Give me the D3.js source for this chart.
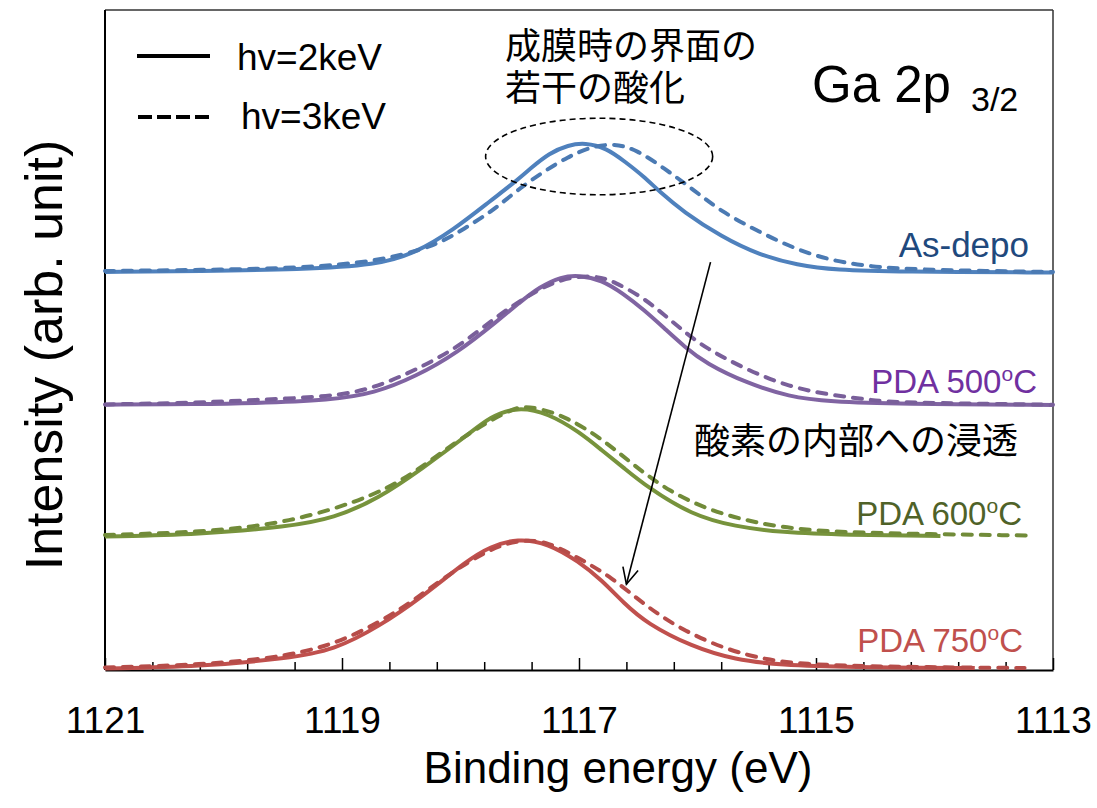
<!DOCTYPE html>
<html>
<head>
<meta charset="utf-8">
<script src="https://cdn.jsdelivr.net/npm/d3@7"></script>
<style>
  body { margin: 0; background: #fff; }
  text { font-family: "Liberation Sans", Arial, sans-serif; fill: #000; }
  .jp { font-family: "Noto Sans CJK JP", sans-serif; }
</style>
</head>
<body>
<div id="chart"></div>
<script>
// spectra: [binding energy (eV), normalized intensity]
const asDepo2keV = [[1121.00,0.015],[1120.20,0.023],[1119.35,0.034],[1118.70,0.068],[1118.38,0.159],[1118.06,0.333],
  [1117.74,0.56],[1117.55,0.69],[1117.41,0.80],[1117.25,0.917],[1117.09,0.977],[1116.95,0.995],[1116.77,0.955],
  [1116.61,0.85],[1116.45,0.737],[1116.32,0.623],[1116.12,0.472],[1115.80,0.283],[1115.48,0.144],[1115.16,0.068],
  [1114.83,0.03],[1114.32,0.017],[1113.00,0.011]];
const asDepo3keV = [[1121.00,0.023],[1120.20,0.03],[1119.35,0.045],[1118.71,0.093],[1118.22,0.207],[1117.96,0.348],
  [1117.74,0.472],[1117.55,0.614],[1117.32,0.765],[1117.09,0.889],[1116.90,0.964],[1116.70,0.99],[1116.51,0.94],
  [1116.28,0.80],[1116.03,0.636],[1115.80,0.472],[1115.48,0.32],[1115.16,0.182],[1114.83,0.093],[1114.51,0.055],
  [1114.32,0.043],[1113.87,0.027],[1113.00,0.015]];
const pda500_2keV = [[1121.00,0.01],[1120.20,0.015],[1119.78,0.02],[1119.08,0.045],[1118.73,0.096],[1118.38,0.222],
  [1118.03,0.40],[1117.68,0.65],[1117.51,0.778],[1117.33,0.904],[1117.15,0.98],[1117.00,0.992],[1116.81,0.955],
  [1116.63,0.854],[1116.45,0.727],[1116.28,0.589],[1116.11,0.449],[1115.93,0.323],[1115.58,0.172],[1115.23,0.07],
  [1114.88,0.033],[1114.32,0.015],[1113.00,0.008]];
const pda500_3keV = [[1121.00,0.012],[1120.20,0.025],[1119.78,0.045],[1119.08,0.07],[1118.73,0.134],[1118.38,0.273],
  [1118.03,0.437],[1117.68,0.689],[1117.40,0.854],[1117.15,0.967],[1116.87,0.992],[1116.70,0.942],[1116.45,0.816],
  [1116.28,0.689],[1116.11,0.563],[1115.93,0.437],[1115.58,0.273],[1115.23,0.146],[1114.88,0.083],[1114.53,0.045],
  [1114.32,0.025],[1113.00,0.01]];
const pda600_2keV = [[1121.00,0.011],[1120.20,0.028],[1119.45,0.086],[1119.07,0.149],[1118.69,0.30],[1118.32,0.528],
  [1117.94,0.78],[1117.75,0.919],[1117.52,0.995],[1117.26,0.945],[1117.00,0.805],[1116.81,0.667],[1116.62,0.53],
  [1116.43,0.39],[1116.05,0.174],[1115.68,0.086],[1115.30,0.043],[1114.74,0.023],[1113.95,0.015]];
const pda600_3keV = [[1121.00,0.023],[1120.20,0.043],[1119.45,0.111],[1118.69,0.326],[1118.32,0.54],[1117.94,0.793],
  [1117.56,0.983],[1117.46,0.995],[1117.34,0.983],[1117.11,0.919],[1116.81,0.755],[1116.54,0.553],[1116.24,0.351],
  [1115.87,0.199],[1115.49,0.111],[1115.11,0.06],[1114.54,0.035],[1113.21,0.019]];
const pda750_2keV = [[1121.00,0.011],[1120.20,0.025],[1119.45,0.089],[1119.07,0.15],[1118.69,0.328],[1118.32,0.555],
  [1117.94,0.833],[1117.75,0.934],[1117.52,0.998],[1117.26,0.96],[1117.00,0.82],[1116.81,0.682],[1116.62,0.505],
  [1116.43,0.354],[1116.05,0.177],[1115.68,0.076],[1115.30,0.038],[1114.74,0.02],[1113.66,0.015]];
const pda750_3keV = [[1121.00,0.019],[1120.20,0.038],[1119.45,0.10],[1118.96,0.227],[1118.50,0.455],[1118.13,0.707],
  [1117.75,0.922],[1117.49,0.99],[1117.26,0.972],[1117.00,0.846],[1116.73,0.707],[1116.43,0.48],[1116.13,0.303],
  [1115.75,0.152],[1115.41,0.076],[1115.11,0.045],[1114.54,0.025],[1113.24,0.015]];

const sampleNames = ["As-depo", "PDA 500", "PDA 600", "PDA 750"];
const offsets = [3, 2, 1, 0];                 // vertical stacking of the spectra
const spectra2keV = [asDepo2keV, pda500_2keV, pda600_2keV, pda750_2keV];
const spectra3keV = [asDepo3keV, pda500_3keV, pda600_3keV, pda750_3keV];
const majorTicks = [1121, 1119, 1117, 1115, 1113];
const minorTicks = [1120.6, 1120.2, 1119.8, 1119.4, 1118.6, 1118.2, 1117.8, 1117.4,
  1116.6, 1116.2, 1115.8, 1115.4, 1114.6, 1114.2, 1113.8, 1113.4];

const lineColors = ["#4f81bd", "#8064a2", "#77933c", "#c0504d"];
const labelColors = ["#1f497d", "#7030a0", "#4f6228", "#c0504d"];

const width = 1097, height = 808;
const margin = {top: 10, right: 44, bottom: 138, left: 105};
const W = width - margin.left - margin.right;
const H = height - margin.top - margin.bottom;

const svg = d3.select("#chart").append("svg")
    .attr("width", width)
    .attr("height", height)
    .style("background", "#fff");

const g = svg.append("g").attr("transform", `translate(${margin.left},${margin.top})`);

const x = d3.scaleLinear().domain([1121, 1113]).range([0, W]);
const y = d3.scaleLinear().domain([0, 5]).range([H, 0]);

// frame (top/right thin, left a bit heavier)
g.append("line").attr("x1", 0).attr("x2", W).attr("y1", 0).attr("y2", 0)
    .attr("stroke", "#333").attr("stroke-width", 1.5);
g.append("line").attr("x1", W).attr("x2", W).attr("y1", 0).attr("y2", H)
    .attr("stroke", "#333").attr("stroke-width", 1.5);
g.append("line").attr("x1", 0).attr("x2", 0).attr("y1", 0).attr("y2", H)
    .attr("stroke", "#000").attr("stroke-width", 2);

// bottom axis: major ticks with labels, minor ticks without
const xAxis = g.append("g").attr("transform", `translate(0,${H})`)
    .call(d3.axisBottom(x).tickValues(majorTicks).tickSize(-12).tickSizeOuter(0)
        .tickPadding(37).tickFormat(d3.format("d")));
xAxis.select(".domain").attr("stroke", "#000").attr("stroke-width", 2.2);
xAxis.selectAll(".tick line").attr("stroke", "#000").attr("stroke-width", 1.5);
xAxis.selectAll(".tick text").style("font-size", "37px").style("font-family", '"Liberation Sans", Arial, sans-serif').attr("fill", "#000");

const xMinor = g.append("g").attr("transform", `translate(0,${H})`)
    .call(d3.axisBottom(x).tickValues(minorTicks).tickSize(-8).tickFormat(""));
xMinor.select(".domain").remove();
xMinor.selectAll(".tick line").attr("stroke", "#000").attr("stroke-width", 1.5);

// spectra
const line = d3.line().curve(d3.curveBasis);

spectra2keV.forEach(function (s, i) {
    g.append("path")
        .attr("d", line(s.map(d => [x(d[0]), y(d[1] + offsets[i])])))
        .attr("fill", "none")
        .attr("stroke", lineColors[i])
        .attr("stroke-width", 4);
});
spectra3keV.forEach(function (s, i) {
    g.append("path")
        .attr("d", line(s.map(d => [x(d[0]), y(d[1] + offsets[i])])))
        .attr("fill", "none")
        .attr("stroke", d3.color(lineColors[i]).darker(0.15))
        .attr("stroke-width", 4)
        .attr("stroke-dasharray", "9,9")
        .attr("stroke-linecap", "round");
});

// sample labels
const labelPos = [[1029, 257, 35], [1037, 393, 33], [1022, 525, 33], [1023, 652, 33]];
sampleNames.forEach(function (name, i) {
    const p = labelPos[i];
    const t = svg.append("text")
        .attr("x", p[0]).attr("y", p[1])
        .attr("text-anchor", "end")
        .style("font-size", p[2] + "px")
        .style("fill", labelColors[i]);
    if (i === 0) {
        t.text(name);
    } else {
        t.append("tspan").text(name);
        t.append("tspan").text("o").attr("dy", -12).style("font-size", "21px");
        t.append("tspan").text("C").attr("dy", 12);
    }
});

// legend
svg.append("line").attr("x1", 137).attr("x2", 210).attr("y1", 56).attr("y2", 56)
    .attr("stroke", "#000").attr("stroke-width", 4);
svg.append("line").attr("x1", 138).attr("x2", 210).attr("y1", 117).attr("y2", 117)
    .attr("stroke", "#000").attr("stroke-width", 4).attr("stroke-dasharray", "14,5");
svg.append("text").attr("x", 237).attr("y", 70).style("font-size", "37px").text("hv=2keV");
svg.append("text").attr("x", 241).attr("y", 129).style("font-size", "37px").text("hv=3keV");

// title
svg.append("text").attr("x", 812).attr("y", 102).style("font-size", "51px").text("Ga 2p");
svg.append("text").attr("x", 971).attr("y", 111).style("font-size", "34px").text("3/2");

// annotations
const note1 = svg.append("text").attr("class", "jp").style("font-size", "36px");
note1.append("tspan").attr("x", 505).attr("y", 59).text("成膜時の界面の");
note1.append("tspan").attr("x", 505).attr("y", 101).text("若干の酸化");
svg.append("text").attr("class", "jp").attr("x", 694).attr("y", 454).style("font-size", "36px").text("酸素の内部への浸透");

// dashed ellipse round the As-depo peak
const ell = {e: 1116.83, v: 3.89, re: 0.958, rv: 0.29};
g.append("ellipse")
    .attr("cx", x(ell.e)).attr("cy", y(ell.v))
    .attr("rx", Math.abs(x(ell.e - ell.re) - x(ell.e)))
    .attr("ry", Math.abs(y(ell.v + ell.rv) - y(ell.v)))
    .attr("fill", "none").attr("stroke", "#000")
    .attr("stroke-width", 1.6).attr("stroke-dasharray", "6,4");

// arrow
const arrowFrom = [1115.89, 3.09], arrowTo = [1116.60, 0.65];
const ax1 = x(arrowFrom[0]), ay1 = y(arrowFrom[1]);
const ax2 = x(arrowTo[0]), ay2 = y(arrowTo[1]);
g.append("line").attr("x1", ax1).attr("y1", ay1).attr("x2", ax2).attr("y2", ay2)
    .attr("stroke", "#000").attr("stroke-width", 1.6);
const ang = Math.atan2(ay2 - ay1, ax2 - ax1);
const wing = 18, spread = 0.45;
g.append("polyline")
    .attr("points", [
        [ax2 - wing * Math.cos(ang - spread), ay2 - wing * Math.sin(ang - spread)],
        [ax2, ay2],
        [ax2 - wing * Math.cos(ang + spread), ay2 - wing * Math.sin(ang + spread)]
    ].map(p => p.join(",")).join(" "))
    .attr("fill", "none").attr("stroke", "#000").attr("stroke-width", 1.6);

// axis titles
svg.append("text")
    .attr("transform", "translate(62,355) rotate(-90)")
    .attr("text-anchor", "middle")
    .style("font-size", "52px")
    .text("Intensity (arb. unit)");
svg.append("text")
    .attr("x", 618).attr("y", 783)
    .attr("text-anchor", "middle")
    .style("font-size", "44px")
    .text("Binding energy (eV)");
</script>
</body>
</html>
